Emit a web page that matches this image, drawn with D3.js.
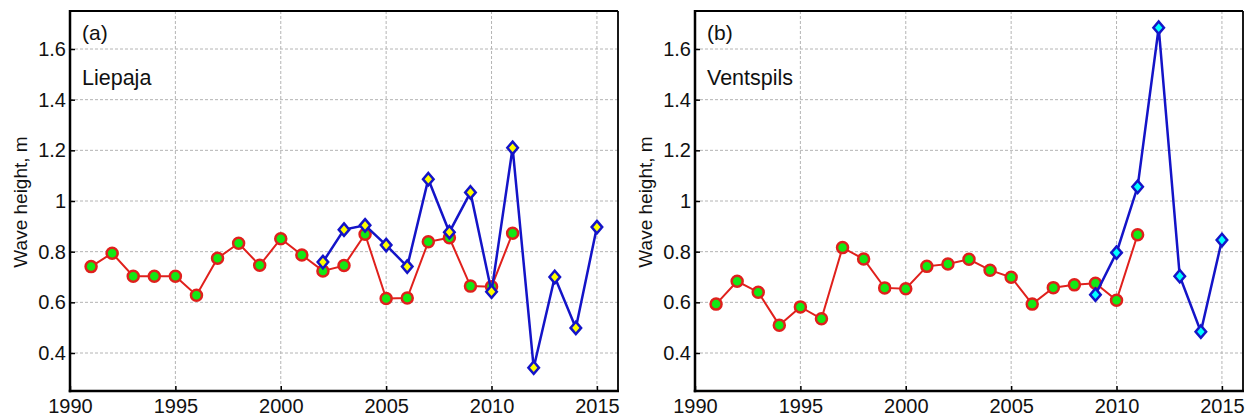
<!DOCTYPE html>
<html><head><meta charset="utf-8">
<script src="https://cdn.jsdelivr.net/npm/d3@7"></script>
<style>body{margin:0;background:#fff;} svg{display:block;font-family:"Liberation Sans",Arial,sans-serif;}</style>
</head><body>
<script>
// Data
const yearsRed = [1991,1992,1993,1994,1995,1996,1997,1998,1999,2000,2001,2002,2003,2004,2005,2006,2007,2008,2009,2010,2011];
const liepajaRed = [0.741,0.794,0.703,0.703,0.703,0.628,0.774,0.833,0.746,0.851,0.787,0.724,0.745,0.869,0.615,0.617,0.839,0.855,0.664,0.662,0.873];
const liepajaBlueYears = [2002,2003,2004,2005,2006,2007,2008,2009,2010,2011,2012,2013,2014,2015];
const liepajaBlue = [0.759,0.887,0.904,0.826,0.741,1.086,0.877,1.034,0.642,1.21,0.342,0.70,0.499,0.897];
const ventspilsRed = [0.593,0.683,0.640,0.510,0.582,0.535,0.816,0.771,0.657,0.654,0.742,0.751,0.770,0.727,0.699,0.593,0.658,0.669,0.675,0.608,0.867];
const ventspilsBlueYears = [2009,2010,2011,2012,2013,2014,2015];
const ventspilsBlue = [0.630,0.796,1.056,1.684,0.703,0.484,0.846];
const xTicks = [1990,1995,2000,2005,2010,2015];
const yTicks = [0.4,0.6,0.8,1,1.2,1.4,1.6];
const panels = [
  {tag:"(a)", name:"Liepaja", left:70, red:liepajaRed, bYears:liepajaBlueYears, blue:liepajaBlue, dfill:"#ffff00"},
  {tag:"(b)", name:"Ventspils", left:695, red:ventspilsRed, bYears:ventspilsBlueYears, blue:ventspilsBlue, dfill:"#00ffff"}
];

const svg = d3.select("body").append("svg").attr("width",1246).attr("height",416);
const plotTop = 11, plotBottom = 391, W = 548;

panels.forEach(p => {
  const x = d3.scaleLinear().domain([1990,2016]).range([p.left, p.left+W]);
  const y = d3.scaleLinear().domain([0.25,1.75]).range([plotBottom, plotTop]);
  const g = svg.append("g");
  // grid
  g.selectAll(".gx").data(xTicks.filter(t=>t>1990)).enter().append("line")
    .attr("x1",d=>x(d)).attr("x2",d=>x(d)).attr("y1",plotTop).attr("y2",plotBottom)
    .attr("stroke","#b4b4b4").attr("stroke-width",1).attr("stroke-dasharray","3,2");
  g.selectAll(".gy").data(yTicks).enter().append("line")
    .attr("x1",p.left).attr("x2",p.left+W).attr("y1",d=>y(d)).attr("y2",d=>y(d))
    .attr("stroke","#b4b4b4").attr("stroke-width",1).attr("stroke-dasharray","3,2");
  // axes
  const xa = g.append("g").attr("transform",`translate(0,${plotBottom})`)
    .call(d3.axisBottom(x).tickValues(xTicks).tickFormat(d3.format("d")).tickSizeInner(-5).tickSizeOuter(0).tickPadding(8));
  const ya = g.append("g").attr("transform",`translate(${p.left},0)`)
    .call(d3.axisLeft(y).tickValues(yTicks).tickFormat(d=>String(d)).tickSizeInner(-5).tickSizeOuter(0).tickPadding(4));
  [xa,ya].forEach(a=>{
    a.select(".domain").remove();
    a.selectAll(".tick line").attr("stroke","#000").attr("stroke-width",1.5);
    a.selectAll("text").attr("font-size",20).attr("fill","#111").attr("font-family","Liberation Sans, Arial, sans-serif");
  });
  // frame
  g.append("line").attr("x1",p.left).attr("x2",p.left+W).attr("y1",plotTop).attr("y2",plotTop).attr("stroke","#000").attr("stroke-width",1.8);
  g.append("line").attr("x1",p.left+W).attr("x2",p.left+W).attr("y1",plotTop).attr("y2",plotBottom).attr("stroke","#000").attr("stroke-width",1.8);
  g.append("line").attr("x1",p.left).attr("x2",p.left).attr("y1",plotTop-1).attr("y2",plotBottom+1.25).attr("stroke","#000").attr("stroke-width",2.5);
  g.append("line").attr("x1",p.left-1.25).attr("x2",p.left+W+1).attr("y1",plotBottom).attr("y2",plotBottom).attr("stroke","#000").attr("stroke-width",2.5);
  // y label
  g.append("text").attr("transform",`translate(${p.left-43},${(plotTop+plotBottom)/2+1}) rotate(-90)`)
    .attr("text-anchor","middle").attr("font-size",19).attr("fill","#111").text("Wave height, m");
  // panel text
  g.append("text").attr("x",p.left+12).attr("y",40).attr("font-size",21).attr("fill","#111").text(p.tag);
  g.append("text").attr("x",p.left+12).attr("y",85).attr("font-size",21.5).attr("fill","#111").text(p.name);
  // red series
  const redData = yearsRed.map((yr,i)=>({x:yr,y:p.red[i]}));
  g.append("path").datum(redData).attr("fill","none").attr("stroke","#e0201c").attr("stroke-width",2)
    .attr("d", d3.line().x(d=>x(d.x)).y(d=>y(d.y)));
  g.selectAll(".rc").data(redData).enter().append("circle")
    .attr("cx",d=>x(d.x)).attr("cy",d=>y(d.y)).attr("r",5.5)
    .attr("fill","#14e814").attr("stroke","#e0201c").attr("stroke-width",2.5);
  // blue series
  const blueData = p.bYears.map((yr,i)=>({x:yr,y:p.blue[i]}));
  g.append("path").datum(blueData).attr("fill","none").attr("stroke","#1414c8").attr("stroke-width",2.5)
    .attr("d", d3.line().x(d=>x(d.x)).y(d=>y(d.y)));
  const s = 6.2;
  g.selectAll(".bd").data(blueData).enter().append("path")
    .attr("d",d=>{const cx=x(d.x), cy=y(d.y); return `M${cx},${cy-s}L${cx+s*0.85},${cy}L${cx},${cy+s}L${cx-s*0.85},${cy}Z`;})
    .attr("fill",p.dfill).attr("stroke","#1414c8").attr("stroke-width",2.5);
});
</script>
</body></html>
